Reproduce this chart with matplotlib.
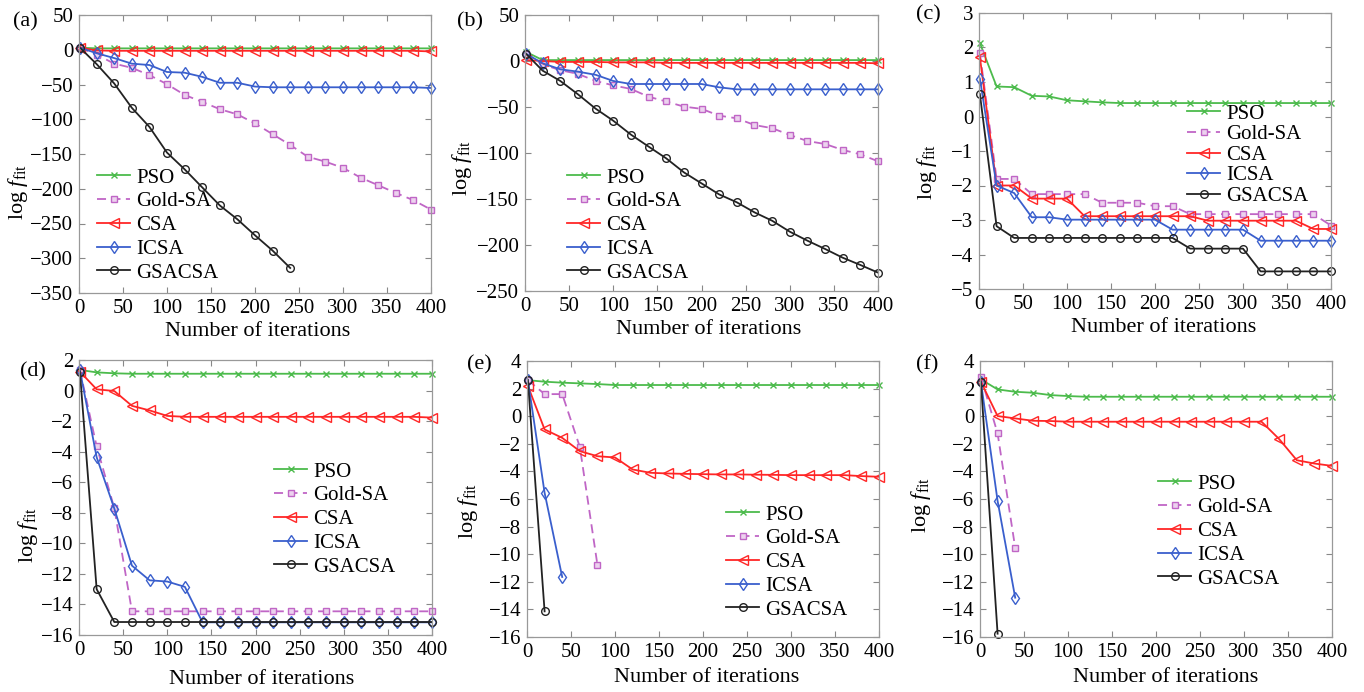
import matplotlib
matplotlib.use("Agg")
import matplotlib.pyplot as plt

plt.rcParams['font.family'] = ['Liberation Serif', 'DejaVu Serif']
plt.rcParams['mathtext.fontset'] = 'custom'
plt.rcParams['mathtext.rm'] = 'Liberation Serif'
plt.rcParams['mathtext.it'] = 'Liberation Serif:italic'

# iteration numbers where the markers sit
iters = [1, 20, 40, 60, 80, 100, 120, 140, 160, 180, 200, 220, 240, 260, 280, 300, 320, 340, 360, 380, 400]

names = ["PSO", "Gold-SA", "CSA", "ICSA", "GSACSA"]

# (a)
pso_a = [3, 2, 2, 2, 2, 2, 2, 2, 2, 2, 2, 2, 2, 2, 2, 2, 2, 2, 2, 2, 2]
gold_a = [3, -7, -20, -26, -36.5, -49.5, -65, -75, -85.5, -93, -106, -121.5, -137, -154, -161, -170, -184, -195, -206, -216.5, -230]
csa_a = [3, -1, -1.5, -1.5, -1.5, -1.5, -1.5, -1.5, -1.5, -1.5, -1.5, -1.5, -1.5, -1.5, -1.5, -1.5, -1.5, -1.5, -1.5, -1.5, -2.5]
icsa_a = [3, -5, -12, -20, -22, -32, -33, -39, -47.5, -47.5, -53, -54, -54, -54, -54, -54, -54, -54, -54, -54, -55]
gsacsa_a = [3, -20.6, -48.5, -83.5, -111, -148, -172, -198, -224, -244, -267, -289, -314]

# (b)
pso_b = [10, 1, 1, 1, 1, 1, 1, 1, 1, 1, 1, 1, 1, 1, 1, 1, 1, 1, 1, 1, 1]
gold_b = [8, -3.6, -10, -14, -21.7, -26.5, -30.4, -38.8, -44, -49.6, -52, -59.4, -62.3, -69.6, -73, -80.4, -87, -90.2, -96.7, -101.4, -109]
csa_b = [1, 0, -1, -1, -1, -1.5, -1.5, -1.5, -2, -2, -2, -2, -2, -2, -2, -2, -2, -2, -2, -2, -2.5]
icsa_b = [8, -2.5, -9, -11.6, -15, -21.7, -25, -25, -25, -25, -25, -28.6, -30.8, -30.8, -30.8, -30.8, -30.8, -30.8, -30.8, -30.8, -30.8]
gsacsa_b = [8, -10.5, -21.7, -36.2, -51.8, -64.9, -80, -93, -105.8, -121, -133, -145, -153.6, -164.5, -173.6, -185.5, -195.3, -204.3, -213.8, -221.7, -230]

# (c)
pso_c = [2.13, 0.87, 0.85, 0.6, 0.58, 0.47, 0.44, 0.41, 0.39, 0.39, 0.39, 0.39, 0.39, 0.39, 0.39, 0.39, 0.39, 0.39, 0.39, 0.39, 0.39]
gold_c = [1.84, -1.81, -1.81, -2.25, -2.25, -2.25, -2.25, -2.5, -2.5, -2.5, -2.6, -2.6, -2.83, -2.83, -2.83, -2.83, -2.83, -2.83, -2.83, -2.83, -3.16]
csa_c = [1.72, -2.0, -2.0, -2.38, -2.38, -2.38, -2.89, -2.89, -2.89, -2.89, -2.89, -2.89, -2.89, -3.02, -3.02, -3.02, -3.02, -3.02, -3.02, -3.26, -3.26]
icsa_c = [1.1, -2.0, -2.22, -2.92, -2.92, -2.99, -2.99, -2.99, -2.99, -2.99, -2.99, -3.28, -3.28, -3.28, -3.28, -3.28, -3.6, -3.6, -3.6, -3.6, -3.6]
gsacsa_c = [0.65, -3.18, -3.52, -3.52, -3.52, -3.52, -3.52, -3.52, -3.52, -3.52, -3.52, -3.52, -3.83, -3.83, -3.83, -3.83, -4.49, -4.49, -4.49, -4.49, -4.49]

# (d)
pso_d = [1.35, 1.19, 1.13, 1.1, 1.1, 1.1, 1.1, 1.1, 1.1, 1.1, 1.1, 1.1, 1.1, 1.1, 1.1, 1.1, 1.1, 1.1, 1.1, 1.1, 1.1]
gold_d = [1.35, -3.66, -7.7, -14.45, -14.45, -14.45, -14.45, -14.45, -14.45, -14.45, -14.45, -14.45, -14.45, -14.45, -14.45, -14.45, -14.45, -14.45, -14.45, -14.45, -14.45]
csa_d = [1.24, 0.08, -0.03, -1.0, -1.3, -1.66, -1.72, -1.72, -1.72, -1.72, -1.72, -1.72, -1.72, -1.72, -1.72, -1.72, -1.72, -1.72, -1.72, -1.72, -1.77]
icsa_d = [1.35, -4.36, -7.72, -11.46, -12.42, -12.5, -12.85, -15.17, -15.17, -15.17, -15.17, -15.17, -15.17, -15.17, -15.17, -15.17, -15.17, -15.17, -15.17, -15.17, -15.17]
gsacsa_d = [1.24, -13.0, -15.15, -15.15, -15.15, -15.15, -15.15, -15.15, -15.15, -15.15, -15.15, -15.15, -15.15, -15.15, -15.15, -15.15, -15.15, -15.15, -15.15, -15.15, -15.15]

# (e)
pso_e = [2.61, 2.5, 2.43, 2.38, 2.33, 2.26, 2.26, 2.26, 2.26, 2.26, 2.26, 2.26, 2.26, 2.26, 2.26, 2.26, 2.26, 2.26, 2.26, 2.26, 2.26]
gold_e = [2.62, 1.6, 1.6, -2.22, -10.76]
csa_e = [2.2, -0.96, -1.57, -2.53, -2.9, -2.99, -3.86, -4.1, -4.15, -4.18, -4.2, -4.22, -4.22, -4.24, -4.25, -4.27, -4.27, -4.27, -4.27, -4.34, -4.39]
icsa_e = [2.62, -5.55, -11.65]
gsacsa_e = [2.62, -14.14]

# (f)
pso_f = [2.67, 1.94, 1.77, 1.7, 1.53, 1.46, 1.41, 1.41, 1.41, 1.41, 1.41, 1.41, 1.41, 1.41, 1.41, 1.41, 1.41, 1.41, 1.41, 1.41, 1.41]
gold_f = [2.86, -1.25, -9.54]
csa_f = [2.5, 0.01, -0.16, -0.33, -0.35, -0.4, -0.4, -0.4, -0.4, -0.4, -0.4, -0.4, -0.4, -0.4, -0.4, -0.4, -0.4, -1.66, -3.19, -3.43, -3.6]
icsa_f = [2.5, -6.14, -13.15]
gsacsa_f = [2.5, -15.76]

W, H = 1364, 692
fig = plt.figure(figsize=(W / 100, H / 100), dpi=100)

# line styles for the five algorithms
styles = [
    dict(color='#4cbb4c', marker='x', ms=4, mew=1.0),
    dict(color='#c066c6', marker='s', ms=4.5, dashes=(5, 3), mfc='#ecd2ee'),
    dict(color='#ff2626', marker='<', ms=6.5, mfc='none'),
    dict(color='#3a5fcd', marker='d', ms=6.5, mfc='none'),
    dict(color='#222222', marker='o', ms=5.5, mfc='none'),
]

# panel settings: label, axes box (px), ylim, ystep, legend corner (px), label positions (px)
panels = [
    ("(a)", (79, 15, 431, 293), (-350, 50), 50, (97, 168), 0.2, (25, 22), (18, 192), (258, 332),
     [pso_a, gold_a, csa_a, icsa_a, gsacsa_a]),
    ("(b)", (525, 15, 878, 291), (-250, 50), 50, (567, 168), 0.2, (470, 22), (462, 168), (709, 330),
     [pso_b, gold_b, csa_b, icsa_b, gsacsa_b]),
    ("(c)", (979, 13, 1331, 289), (-5, 3), 1, (1187, 104), 0.05, (928, 15), (927, 172), (1164, 327),
     [pso_c, gold_c, csa_c, icsa_c, gsacsa_c]),
    ("(d)", (79, 360, 432, 635), (-16, 2), 2, (274, 462), 0.2, (33, 372), (28, 535), (262, 680),
     [pso_d, gold_d, csa_d, icsa_d, gsacsa_d]),
    ("(e)", (527, 361, 879, 637), (-16, 4), 2, (726, 505), 0.2, (479, 365), (468, 511), (707, 678),
     [pso_e, gold_e, csa_e, icsa_e, gsacsa_e]),
    ("(f)", (980, 361, 1332, 637), (-16, 4), 2, (1158, 474), 0.2, (927, 365), (921, 505), (1166, 678),
     [pso_f, gold_f, csa_f, icsa_f, gsacsa_f]),
]

for tag, (x0, y0, x1, y1), ylim, ystep, leg, lsp, tagpos, ylpos, xlpos, series in panels:
    ax = fig.add_axes([x0 / W, 1 - y1 / H, (x1 - x0) / W, (y1 - y0) / H])
    for name, vals, st in zip(names, series, styles):
        ax.plot(iters[:len(vals)], vals, lw=1.3, label=name, clip_on=False, **st)
    ax.set_xlim(0, 400)
    ax.set_ylim(*ylim)
    ax.set_xticks(range(0, 401, 50))
    ax.set_yticks(range(ylim[0], ylim[1] + 1, ystep))
    ax.set_yticklabels([str(v).replace('-', '\u2212') for v in range(ylim[0], ylim[1] + 1, ystep)])
    ax.tick_params(direction='in', length=4, width=0.8, color='#888888', labelsize=15,
                   top=True, right=True, pad=4)
    for sp in ax.spines.values():
        sp.set_color('#999999')
        sp.set_linewidth(0.9)
    fig.text(xlpos[0] / W, 1 - xlpos[1] / H, "Number of iterations", fontsize=16,
             ha='center', va='center')
    fig.text(ylpos[0] / W, 1 - ylpos[1] / H, r"log $f_{\mathrm{fit}}$", fontsize=16,
             ha='center', va='center', rotation=90)
    fig.text(tagpos[0] / W, 1 - tagpos[1] / H, tag, fontsize=16, ha='center', va='center')
    ax.legend(loc='upper left', bbox_to_anchor=(leg[0] / W, 1 - leg[1] / H),
              bbox_transform=fig.transFigure, frameon=False, fontsize=15,
              handlelength=1.6, handletextpad=0.3, labelspacing=lsp,
              borderpad=0, borderaxespad=0)

plt.savefig("out.png", dpi=100)
